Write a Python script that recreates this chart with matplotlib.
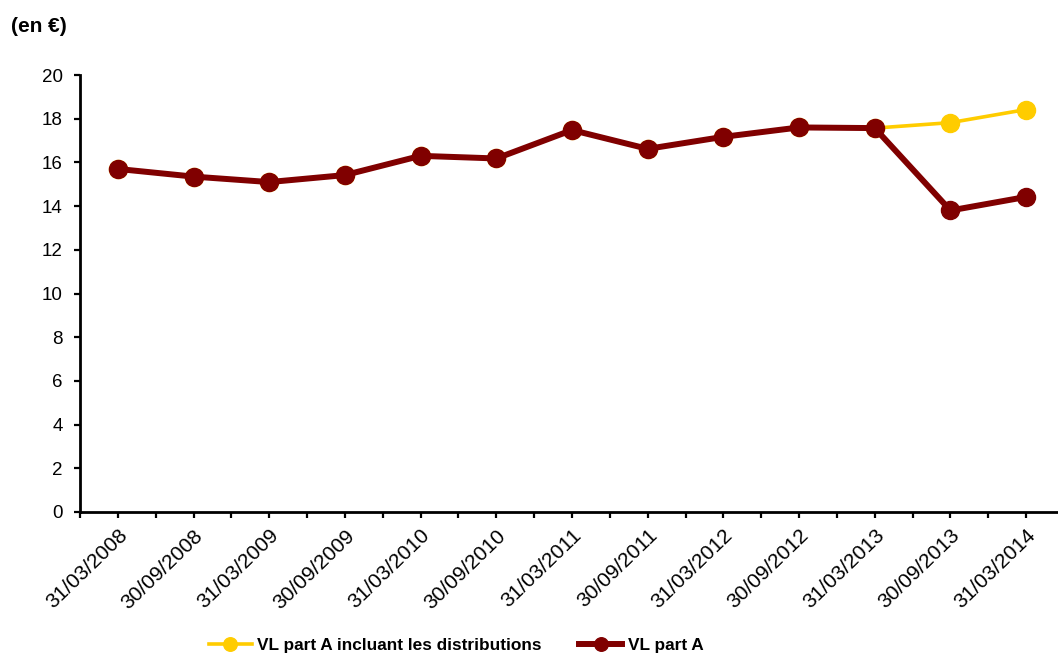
import numpy as np
import matplotlib.pyplot as plt
from matplotlib.ticker import MultipleLocator

plt.rcParams['font.family'] = ['Liberation Sans', 'DejaVu Sans']

# --- data
dates = ['31/03/2008', '30/09/2008', '31/03/2009', '30/09/2009', '31/03/2010',
         '30/09/2010', '31/03/2011', '30/09/2011', '31/03/2012', '30/09/2012',
         '31/03/2013', '30/09/2013', '31/03/2014']
vl_part_a = [15.7, 15.35, 15.1, 15.42, 16.3, 16.18, 17.48, 16.62, 17.17, 17.6,
             17.57, 13.8, 14.42]
vl_part_a_distrib = [15.7, 15.35, 15.1, 15.42, 16.3, 16.18, 17.48, 16.62, 17.17, 17.6,
                     17.57, 17.82, 18.42]

yellow = '#FFCC00'
darkred = '#800000'

W, H = 1058, 655
fig = plt.figure(figsize=(W / 100, H / 100), dpi=100)
ax = fig.add_axes([80 / W, 143 / H, (1064 - 80) / W, (512 - 75) / H])

x = np.arange(len(dates))

# --- yellow series underneath, dark red on top
ax.plot(x, vl_part_a_distrib, color=yellow, lw=2.6, marker='o', ms=13,
        mec=yellow, mfc=yellow, label='VL part A incluant les distributions', zorder=2)
ax.plot(x, vl_part_a, color=darkred, lw=4.3, marker='o', ms=13,
        mec=darkred, mfc=darkred, label='VL part A', zorder=3)

ax.set_xlim(-0.5, len(dates) - 0.5)
ax.set_ylim(0, 20)
ax.yaxis.set_major_locator(MultipleLocator(2))

ax.set_xticks(x)
ax.set_xticklabels(dates, rotation=44, ha='right', va='top', rotation_mode='anchor',
                   fontsize=15)
ax.set_xticks(np.arange(-0.5, len(dates), 1.0), minor=True)

for s in ['top', 'right']:
    ax.spines[s].set_visible(False)
for s in ['left', 'bottom']:
    ax.spines[s].set_linewidth(2)
    ax.spines[s].set_clip_on(False)

ax.tick_params(axis='both', which='both', direction='out', width=1.6)
ax.tick_params(axis='y', length=4.5, pad=8, labelsize=13.5)
ax.tick_params(axis='x', which='both', length=4, pad=6)

fig.text(11 / W, 1 - 27 / H, '(en €)', fontsize=15, fontweight='bold', ha='left', va='center')

fig.legend(loc='center', bbox_to_anchor=(456 / W, 10 / H), ncol=2, frameon=False,
           prop={'size': 12.4, 'weight': 'bold'}, handlelength=2.5, handletextpad=0.3,
           columnspacing=2.2, markerscale=0.75)

fig.savefig('out.png', dpi=100)
